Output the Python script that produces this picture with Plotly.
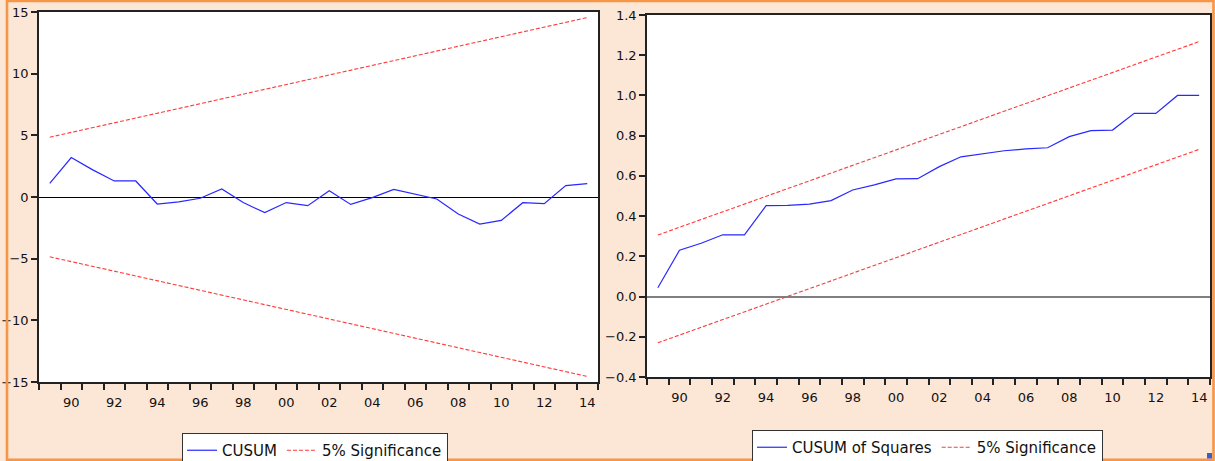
import plotly.graph_objects as go

# ---------------- data ----------------
years = list(range(1989, 2015))
cusum = [1.1, 3.2, 2.2, 1.3, 1.3, -0.57, -0.4, -0.1, 0.65, -0.45, -1.27, -0.45, -0.7,
         0.5, -0.6, -0.05, 0.62, 0.22, -0.16, -1.38, -2.2, -1.9, -0.46, -0.54, 0.92, 1.08]
cusum_sq = [0.044, 0.23, 0.265, 0.307, 0.307, 0.452, 0.453, 0.46, 0.477, 0.53, 0.555, 0.585,
            0.586, 0.646, 0.695, 0.709, 0.725, 0.734, 0.74, 0.795, 0.825, 0.828, 0.911,
            0.911, 1.0, 1.0]
bound_years = [1989, 2014]
cusum_upper = [4.85, 14.55]
cusum_lower = [-4.85, -14.55]
sq_upper = [0.306, 1.268]
sq_lower = [-0.23, 0.732]

tick_years = [1990, 1992, 1994, 1996, 1998, 2000, 2002, 2004, 2006, 2008, 2010, 2012, 2014]
tick_text = ["90", "92", "94", "96", "98", "00", "02", "04", "06", "08", "10", "12", "14"]
left_yticks = [-15, -10, -5, 0, 5, 10, 15]
right_yticks = [-0.4, -0.2, 0.0, 0.2, 0.4, 0.6, 0.8, 1.0, 1.2, 1.4]

# ---------------- style ----------------
W, H = 1215, 461
BLUE = "#2828FF"
RED = "#FF3A3A"
BG = "#FCE6D6"
AX = "#222222"
FONT = "DejaVu Sans"
year_edges = [y - 0.5 for y in years] + [years[-1] + 0.5]

fig = go.Figure()

# Left panel
fig.add_trace(go.Scatter(x=years, y=cusum, mode="lines", name="CUSUM",
                         line=dict(color=BLUE, width=1.2), xaxis="x", yaxis="y",
                         legend="legend"))
fig.add_trace(go.Scatter(x=bound_years, y=cusum_upper, mode="lines", name="5% Significance",
                         line=dict(color=RED, width=1.1, dash="4px,2px"), xaxis="x", yaxis="y",
                         legend="legend", legendgroup="s1"))
fig.add_trace(go.Scatter(x=bound_years, y=cusum_lower, mode="lines", name="5% Significance",
                         line=dict(color=RED, width=1.1, dash="4px,2px"), xaxis="x", yaxis="y",
                         legend="legend", legendgroup="s1", showlegend=False))

# Right panel
fig.add_trace(go.Scatter(x=years, y=cusum_sq, mode="lines", name="CUSUM of Squares",
                         line=dict(color=BLUE, width=1.2), xaxis="x2", yaxis="y2",
                         legend="legend2"))
fig.add_trace(go.Scatter(x=bound_years, y=sq_upper, mode="lines", name="5% Significance",
                         line=dict(color=RED, width=1.1, dash="4px,2px"), xaxis="x2", yaxis="y2",
                         legend="legend2", legendgroup="s2"))
fig.add_trace(go.Scatter(x=bound_years, y=sq_lower, mode="lines", name="5% Significance",
                         line=dict(color=RED, width=1.1, dash="4px,2px"), xaxis="x2", yaxis="y2",
                         legend="legend2", legendgroup="s2", showlegend=False))


def xaxis_cfg(domain, anchor):
    return dict(domain=domain, anchor=anchor, range=[year_edges[0], year_edges[-1]],
                automargin=False,
                tickmode="array", tickvals=tick_years, ticktext=tick_text,
                ticks="outside", ticklen=8, tickcolor="rgba(0,0,0,0)",
                showline=True, linecolor=AX, linewidth=1.5, mirror=True,
                showgrid=False, zeroline=False,
                tickfont=dict(family=FONT, size=13, color="#111"),
                minor=dict(tickmode="array", tickvals=year_edges, ticks="outside",
                           ticklen=6, tickcolor=AX, tickwidth=1.5, showgrid=False))


def yaxis_cfg(domain, anchor, rng, vals, fmt, zc, zw):
    return dict(domain=domain, anchor=anchor, range=rng, tickmode="array", tickvals=vals,
                automargin=False,
                tickformat=fmt, ticks="outside", ticklen=6, tickcolor=AX, tickwidth=1.5,
                showline=True, linecolor=AX, linewidth=1.5, mirror=True,
                showgrid=False, zeroline=True, zerolinecolor=zc, zerolinewidth=zw,
                tickfont=dict(family=FONT, size=13, color="#111"))


legend_common = dict(orientation="h", xanchor="left", yanchor="top", bgcolor="white",
                     bordercolor="#333", borderwidth=1,
                     font=dict(family=FONT, size=15, color="#111"))

fig.update_layout(
    width=W, height=H, margin=dict(l=0, r=0, t=0, b=0, pad=0, autoexpand=False),
    paper_bgcolor=BG, plot_bgcolor="white", hovermode=False,
    xaxis=xaxis_cfg([39 / W, 598 / W], "y"),
    yaxis=yaxis_cfg([(H - 382) / H, (H - 12) / H], "x", [-15.001, 15.001], left_yticks,
                    "d", "#000000", 1),
    xaxis2=xaxis_cfg([647 / W, 1210 / W], "y2"),
    yaxis2=yaxis_cfg([(H - 377) / H, (H - 15) / H], "x2", [-0.4001, 1.4001], right_yticks,
                     ".1f", "#808080", 2),
    legend=dict(x=182 / W, y=(H - 433) / H, **legend_common),
    legend2=dict(x=752 / W, y=(H - 430) / H, **legend_common),
    shapes=[
        dict(type="rect", xref="paper", yref="paper", x0=7 / W, x1=1213.5 / W,
             y0=(H - 459.7) / H, y1=(H - 0.9) / H,
             line=dict(color="#F79646", width=2.6), layer="above"),
        dict(type="rect", xref="paper", yref="paper", x0=1207 / W, x1=1212 / W,
             y0=(H - 458.5) / H, y1=(H - 453) / H,
             line=dict(width=0), fillcolor="#3A5FCD", layer="above"),
    ],
)

fig.write_html("out.html", config={"displayModeBar": False},
               post_script="document.body.style.margin='0';document.body.style.overflow='hidden';")
